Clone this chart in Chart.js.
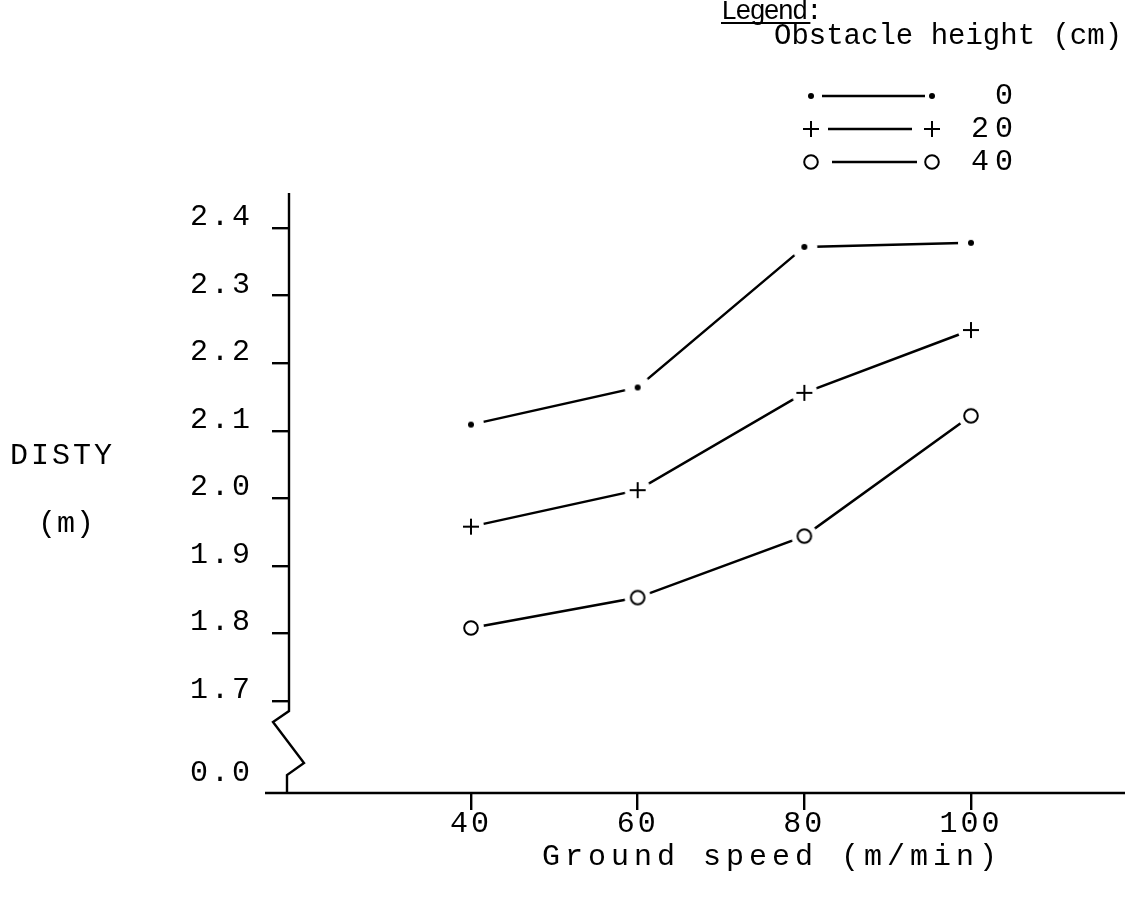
<!DOCTYPE html>
<html>
<head>
<meta charset="utf-8">
<script src="https://cdn.jsdelivr.net/npm/chart.js@4.4.1/dist/chart.umd.min.js"></script>
<style>
  html, body { margin: 0; padding: 0; background: #fff; }
</style>
</head>
<body>
<canvas id="chart" width="1135" height="905"></canvas>
<script>
// values
const speeds = [40, 60, 80, 100];            // ground speed (m/min)
const disty0 = [2.109, 2.164, 2.372, 2.378]; // obstacle 0 cm
const disty20 = [1.958, 2.012, 2.156, 2.249]; // obstacle 20 cm
const disty40 = [1.808, 1.853, 1.944, 2.122]; // obstacle 40 cm
const heights = ['0', '20', '40'];
const xTicks = [40, 60, 80, 100];
const yTicks = [1.7, 1.8, 1.9, 2.0, 2.1, 2.2, 2.3, 2.4];
const yBreak = 1.5638;   // foot of the broken axis
const yZeroTick = 1.5772; // where the "0.0" label sits

const FONT = '"Liberation Mono", "DejaVu Sans Mono", monospace';
const tickFont = { family: FONT, size: 30 };

// marker images; the white disc leaves the gap between line and marker
function makeMarker(kind, halo) {
  const c = document.createElement('canvas');
  c.width = 28; c.height = 28;
  const g = c.getContext('2d');
  if (halo) {
    g.fillStyle = '#fff';
    g.beginPath(); g.arc(14, 14, 13, 0, Math.PI * 2); g.fill();
  }
  g.strokeStyle = '#000'; g.fillStyle = '#000'; g.lineWidth = 2;
  if (kind === 'dot') {
    g.beginPath(); g.arc(14, 14, 3, 0, Math.PI * 2); g.fill();
  } else if (kind === 'plus') {
    g.beginPath();
    g.moveTo(6, 14); g.lineTo(22, 14);
    g.moveTo(14, 6); g.lineTo(14, 22);
    g.stroke();
  } else {
    g.beginPath(); g.arc(14, 14, 6.8, 0, Math.PI * 2); g.stroke();
  }
  return c;
}
const kinds = ['dot', 'plus', 'ring'];
const markers = kinds.map(k => makeMarker(k, true));
const legendMarkers = kinds.map(k => makeMarker(k, false));

function series(label, values, marker) {
  return {
    label: label,
    data: speeds.map((s, i) => ({ x: s, y: values[i] })),
    borderColor: '#000',
    borderWidth: 2.5,
    pointStyle: marker,
    pointRadius: 5,
    pointHoverRadius: 5,
    tension: 0,
    fill: false
  };
}

function text(ctx, str, x, y, align, spacing) {
  ctx.letterSpacing = spacing + 'px';
  ctx.textAlign = align;
  ctx.textBaseline = 'middle';
  ctx.fillText(str, x, y);
  return ctx.measureText(str).width;
}

const decor = {
  id: 'decor',
  beforeDraw(chart) {
    chart.ctx.letterSpacing = '3px';
  },
  afterDraw(chart) {
    const { ctx, scales: { x, y } } = chart;
    ctx.save();
    ctx.strokeStyle = '#000';
    ctx.lineWidth = 2.4;
    const ax = x.left;
    const yBase = y.getPixelForValue(yBreak);

    // broken y axis
    ctx.beginPath();
    ctx.moveTo(ax, y.top);
    ctx.lineTo(ax, yBase - 82);
    ctx.lineTo(ax - 16, yBase - 71);
    ctx.lineTo(ax + 15, yBase - 30);
    ctx.lineTo(ax - 2, yBase - 18);
    ctx.lineTo(ax - 2, yBase);
    ctx.stroke();

    // x axis
    ctx.beginPath();
    ctx.moveTo(ax - 24, yBase);
    ctx.lineTo(x.right, yBase);
    ctx.stroke();

    ctx.fillStyle = '#000';
    ctx.font = '30px ' + FONT;
    text(ctx, 'DISTY', 10, 456, 'left', 3);
    text(ctx, '(m)', 38, 524, 'left', 1);
    text(ctx, 'Ground speed (m/min)', 772, 857, 'center', 5);

    // legend
    ctx.font = '27px ' + FONT;
    const w = text(ctx, 'Legend:', 721, 12, 'left', -2);
    ctx.beginPath();
    ctx.lineWidth = 2;
    ctx.moveTo(721, 23); ctx.lineTo(721 + w - 10, 23);
    ctx.stroke();
    ctx.font = '29px ' + FONT;
    text(ctx, 'Obstacle height (cm)', 774, 36, 'left', 0);
    const rows = [96, 129, 162];
    const seg = [[822, 925], [828, 912], [832, 917]];
    ctx.lineWidth = 2.4;
    ctx.font = '30px ' + FONT;
    rows.forEach((ry, i) => {
      ctx.beginPath();
      ctx.moveTo(seg[i][0], ry); ctx.lineTo(seg[i][1], ry);
      ctx.stroke();
      const m = legendMarkers[i];
      ctx.drawImage(m, 811 - m.width / 2, ry - m.height / 2);
      ctx.drawImage(m, 932 - m.width / 2, ry - m.height / 2);
      text(ctx, heights[i], 1019, ry, 'right', 6);
    });
    ctx.restore();
  }
};

new Chart(document.getElementById('chart'), {
  type: 'line',
  data: {
    datasets: [
      series(heights[0], disty0, markers[0]),
      series(heights[1], disty20, markers[1]),
      series(heights[2], disty40, markers[2])
    ]
  },
  options: {
    responsive: false,
    animation: false,
    devicePixelRatio: 1,
    layout: { padding: { top: 193, right: 10, bottom: 0, left: 0 } },
    plugins: { legend: { display: false }, tooltip: { enabled: false } },
    scales: {
      x: {
        type: 'linear',
        min: 18.16,
        max: 118.48,
        afterBuildTicks: s => { s.ticks = xTicks.map(v => ({ value: v })); },
        afterFit: s => { s.height = 112; },
        border: { display: false },
        grid: { drawOnChartArea: false, tickLength: 17, lineWidth: 2.4, color: '#000' },
        ticks: { font: tickFont, color: '#000', padding: -4, maxRotation: 0, autoSkip: false }
      },
      y: {
        type: 'linear',
        min: yBreak,
        max: 2.4518,
        afterBuildTicks: s => { s.ticks = [yZeroTick].concat(yTicks).map(v => ({ value: v })); },
        afterFit: s => { s.width = 289; },
        border: { display: false },
        grid: {
          drawOnChartArea: false,
          tickLength: 17,
          lineWidth: 2.4,
          color: c => (c.tick && c.tick.value === yZeroTick) ? 'rgba(0,0,0,0)' : '#000'
        },
        ticks: {
          font: tickFont,
          color: '#000',
          padding: 19,
          labelOffset: -11,
          autoSkip: false,
          callback: v => v === yZeroTick ? '0.0' : v.toFixed(1)
        }
      }
    }
  },
  plugins: [decor]
});
</script>
</body>
</html>
